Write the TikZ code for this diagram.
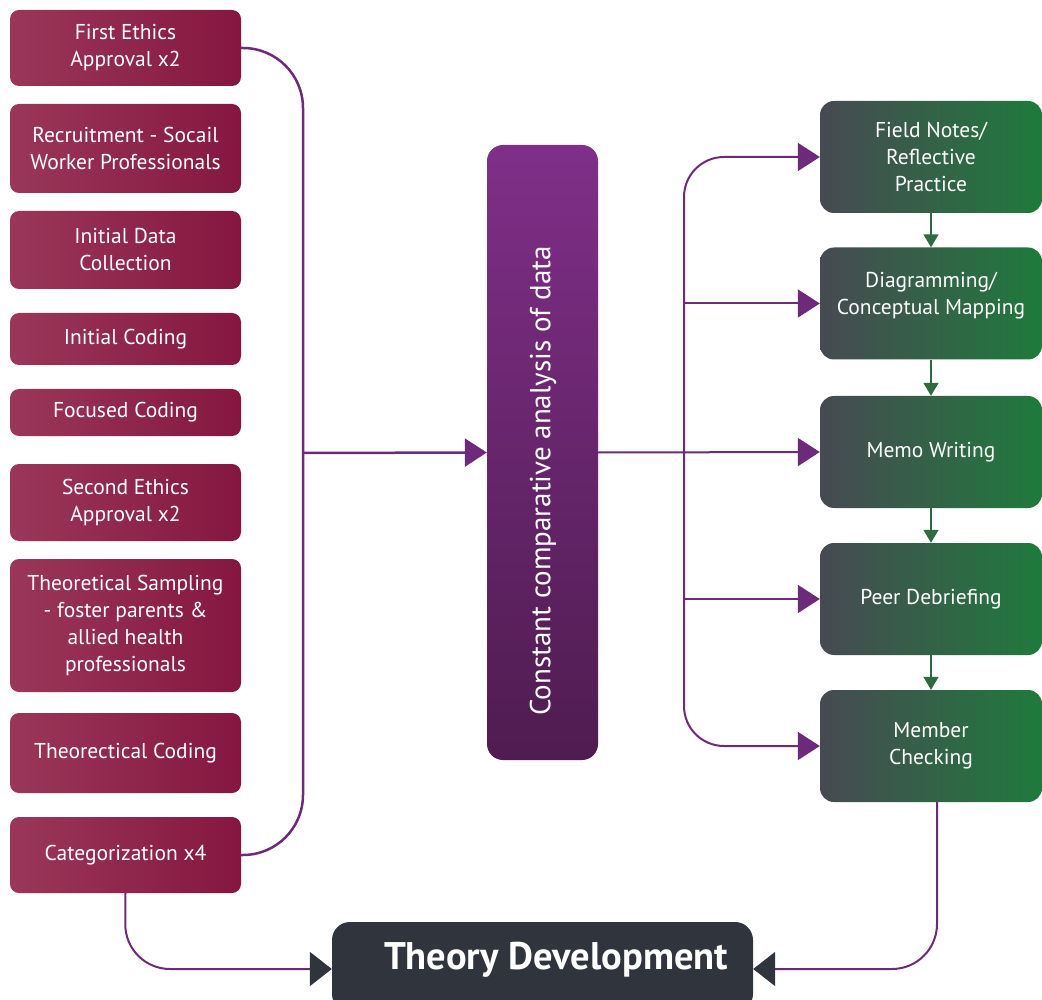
\documentclass[tikz,border=0pt]{standalone}
\usepackage{fontspec}
\setmainfont{PT Sans}
\usetikzlibrary{arrows.meta,positioning}
\definecolor{mL}{HTML}{9A3759}
\definecolor{mR}{HTML}{85173F}
\definecolor{pT}{HTML}{7F2F88}
\definecolor{pB}{HTML}{4F1C50}
\definecolor{gL}{HTML}{474A52}
\definecolor{gR}{HTML}{1F7A3C}
\definecolor{ln}{HTML}{6E2A7A}
\definecolor{gA}{HTML}{2F6A42}
\definecolor{dk}{HTML}{30343C}
\tikzset{
  lbox/.style={rectangle, rounded corners=9pt, left color=mL, right color=mR, draw=none,
    text=white, align=center, minimum width=231pt, font=\fontsize{21.5}{27}\selectfont, inner sep=0pt},
  gbox/.style={rectangle, rounded corners=14pt, left color=gL, right color=gR, draw=none,
    text=white, align=center, minimum width=222pt, minimum height=112pt, font=\fontsize{21.5}{27}\selectfont, inner sep=0pt},
  parr/.style={draw=ln, line width=2pt, -{Triangle[length=22pt,width=28pt,color=ln]}},
  garr/.style={draw=gA, line width=1.5pt, -{Triangle[length=13pt,width=15pt,color=gA]}},
  darr/.style={draw=ln, line width=2pt, rounded corners=45pt, -{Triangle[length=22pt,width=34pt,color=dk]}},
}
\begin{document}
\begin{tikzpicture}[x=1pt,y=-1pt]
\clip (0,0) rectangle (1042,1000);
\useasboundingbox (0,0) rectangle (1042,1000);
% left boxes
\node[lbox, minimum height=76pt] (b1) at (125.5,48) {First Ethics\\Approval x2};
\node[lbox, minimum height=89pt] (b2) at (125.5,148.5) {Recruitment - Socail\\Worker Professionals};
\node[lbox, minimum height=78pt] (b3) at (125.5,250) {Initial Data\\Collection};
\node[lbox, minimum height=52pt] (b4) at (125.5,339) {Initial Coding};
\node[lbox, minimum height=47pt] (b5) at (125.5,412.5) {Focused Coding};
\node[lbox, minimum height=77pt] (b6) at (125.5,502.5) {Second Ethics\\Approval x2};
\node[lbox, minimum height=133pt] (b7) at (125.5,625.5) {Theoretical Sampling\\- foster parents \&\\allied health\\professionals};
\node[lbox, minimum height=80pt] (b8) at (125.5,753) {Theorectical Coding};
\node[lbox, minimum height=76pt] (b9) at (125.5,855) {Categorization x4};
% center
\node[rectangle, rounded corners=16pt, top color=pT, bottom color=pB, minimum width=111pt, minimum height=615pt, inner sep=0pt] (c) at (542.5,452.5) {};
\node[rotate=90, text=white, font=\fontsize{29}{32}\selectfont] (ct) at (543,481) {Constant comparative analysis of data};
% right boxes
\node[gbox] (g1) at (931,157) {Field Notes/\\Reflective\\Practice};
\node[gbox] (g2) at (931,303.5) {Diagramming/\\Conceptual Mapping\\[-6pt]};
\node[gbox] (g3) at (931,452) {Memo Writing};
\node[gbox] (g4) at (931,599) {Peer Debriefing};
\node[gbox] (g5) at (931,746) {Member\\Checking};
% theory
\node[rectangle, rounded corners=18pt, fill=dk, minimum width=421pt, minimum height=90pt, inner sep=0pt] (t) at (542.5,967) {};
\node[text=white, font=\bfseries\fontsize{38.5}{42}\selectfont] (tt) at (556,960) {Theory Development};
% left bracket
\coordinate (lj) at (303,453);
\draw[ln, line width=2.5pt, rounded corners=60pt] (b1.east) -- (303,48) -- (303,855) -- (b9.east);
\draw[parr, line width=2.5pt] (lj) -- (c.west);
% right
\coordinate (rj) at (684,453);
\draw[parr] (c.east) -- (g3.west);
\draw[parr, rounded corners=40pt] (rj) -- (684,157) -- (g1.west);
\draw[parr, rounded corners=40pt] (rj) -- (684,746) -- (g5.west);
\draw[parr] (684,303.5) -- (g2.west);
\draw[parr] (684,599) -- (g4.west);
% green chain
\draw[garr] (g1.south) -- (g2.north);
\draw[garr] (g2.south) -- (g3.north);
\draw[garr] (g3.south) -- (g4.north);
\draw[garr] (g4.south) -- (g5.north);
% bottom
\draw[darr] (b9.south) -- (125,969) -- (t.west |- 0,969);
\draw[darr] (g5.south -| 937,0) -- (937,969) -- (t.east |- 0,969);
\end{tikzpicture}
\end{document}
